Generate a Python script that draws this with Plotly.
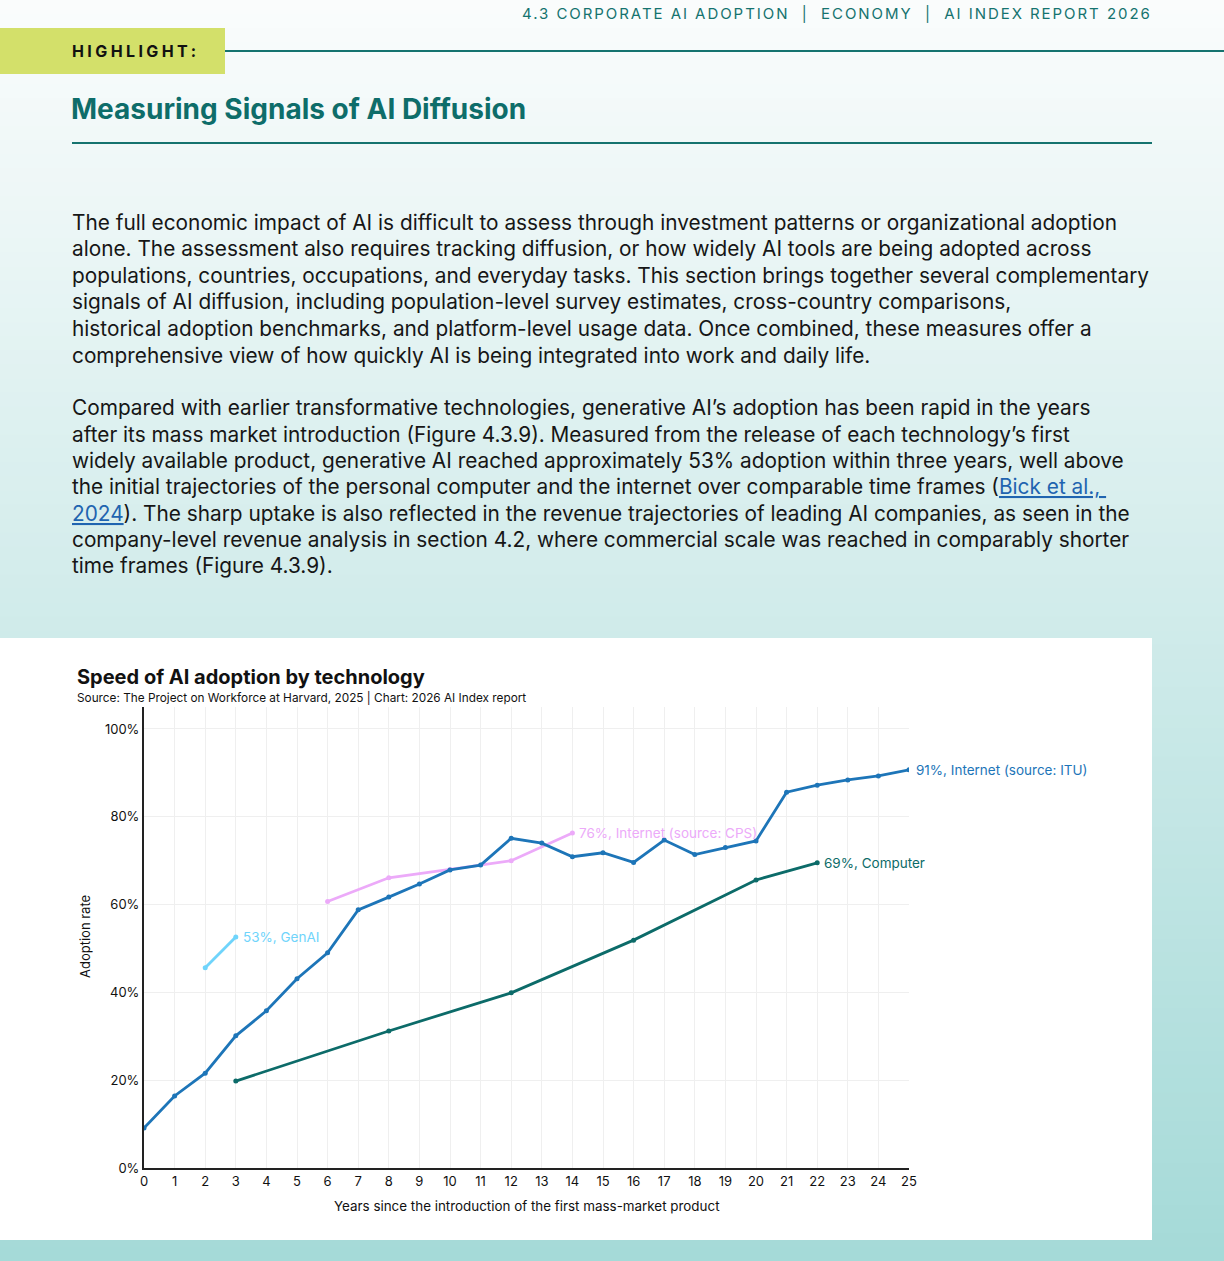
import plotly.graph_objects as go

# ---- data ----
years = list(range(0, 26))

itu_x = years
itu_y = [9.1, 16.4, 21.6, 30.1, 35.8, 43.1, 49.0, 58.8, 61.7, 64.7, 67.9, 69.0, 75.1,
         74.0, 70.9, 71.8, 69.6, 74.7, 71.4, 73.0, 74.5, 85.6, 87.2, 88.4, 89.3, 90.7]

cps_x = [6, 8, 10, 12, 14]
cps_y = [60.7, 66.1, 68.0, 70.0, 76.3]

genai_x = [2, 3]
genai_y = [45.6, 52.6]

pc_x = [3, 8, 12, 16, 20, 22]
pc_y = [19.8, 31.2, 39.9, 51.9, 65.6, 69.5]

y_ticks = [0, 20, 40, 60, 80, 100]
y_tick_text = ["0%", "20%", "40%", "60%", "80%", "100%"]

para1 = [
    "The full economic impact of AI is difficult to assess through investment patterns or organizational adoption",
    "alone. The assessment also requires tracking diffusion, or how widely AI tools are being adopted across",
    "populations, countries, occupations, and everyday tasks. This section brings together several complementary",
    "signals of AI diffusion, including population-level survey estimates, cross-country comparisons,",
    "historical adoption benchmarks, and platform-level usage data. Once combined, these measures offer a",
    "comprehensive view of how quickly AI is being integrated into work and daily life.",
]
LINK = "color:#1f64b0;text-decoration:underline"
para2 = [
    "Compared with earlier transformative technologies, generative AI’s adoption has been rapid in the years",
    "after its mass market introduction (Figure 4.3.9). Measured from the release of each technology’s first",
    "widely available product, generative AI reached approximately 53% adoption within three years, well above",
    "the initial trajectories of the personal computer and the internet over comparable time frames ("
    f"<span style='{LINK}'>Bick et al., </span>",
    f"<span style='{LINK}'>2024</span>). The sharp uptake is also reflected in the revenue trajectories of leading AI companies, as seen in the",
    "company-level revenue analysis in section 4.2, where commercial scale was reached in comparably shorter",
    "time frames (Figure 4.3.9).",
]

W, H = 1224, 1261
TEAL = "#15736f"
C_ITU = "#1d75b8"
C_CPS = "#ecaaf9"
C_GEN = "#6fd4fb"
C_PC = "#0c6b69"


def px(x):
    return x / W


def py(y):
    return 1 - y / H


fig = go.Figure()

fig.add_trace(go.Scatter(x=pc_x, y=pc_y, mode="lines+markers",
                         line=dict(color=C_PC, width=2.8), marker=dict(size=5, color=C_PC)))
fig.add_trace(go.Scatter(x=cps_x, y=cps_y, mode="lines+markers",
                         line=dict(color=C_CPS, width=2.8), marker=dict(size=5, color=C_CPS)))
fig.add_trace(go.Scatter(x=itu_x, y=itu_y, mode="lines+markers",
                         line=dict(color=C_ITU, width=2.8), marker=dict(size=5, color=C_ITU)))
fig.add_trace(go.Scatter(x=genai_x, y=genai_y, mode="lines+markers",
                         line=dict(color=C_GEN, width=2.8), marker=dict(size=5, color=C_GEN)))

# ---- background: vertical gradient made of thin strips ----
shapes = []
top, bot = (250, 252, 252), (165, 218, 216)
n = 90
for i in range(n):
    t = i / (n - 1)
    col = tuple(round(top[k] + (bot[k] - top[k]) * t) for k in range(3))
    y0 = H * i / n
    y1 = H * (i + 1) / n + 1
    shapes.append(dict(type="rect", xref="paper", yref="paper", layer="below",
                       x0=0, x1=1, y0=py(y1), y1=py(y0), line=dict(width=0),
                       fillcolor="rgb(%d,%d,%d)" % col))

# highlight box and rules
shapes += [
    dict(type="rect", xref="paper", yref="paper", layer="below", x0=0, x1=px(225),
         y0=py(74), y1=py(28), fillcolor="#d3e06a", line=dict(width=0)),
    dict(type="line", xref="paper", yref="paper", layer="below", x0=px(225), x1=1,
         y0=py(51), y1=py(51), line=dict(color=TEAL, width=2)),
    dict(type="line", xref="paper", yref="paper", layer="below", x0=px(72), x1=px(1152),
         y0=py(143), y1=py(143), line=dict(color=TEAL, width=2)),
    # white chart card
    dict(type="rect", xref="paper", yref="paper", layer="below", x0=0, x1=px(1152),
         y0=py(1240), y1=py(638), fillcolor="white", line=dict(width=0)),
]

ann = [
    dict(text="<span style='letter-spacing:1.95px'>4.3 CORPORATE AI ADOPTION  |  ECONOMY  |  AI INDEX REPORT 2026</span>",
         x=px(1154), y=py(14), xanchor="right", font=dict(size=15, color=TEAL, family="Inter")),
    dict(text="<span style='letter-spacing:3.4px'><b>HIGHLIGHT:</b></span>", x=px(70), y=py(51), xanchor="left",
         font=dict(size=16, color="#111111", family="Inter")),
    dict(text="<b>Measuring Signals of AI Diffusion</b>", x=px(69), y=py(109), xanchor="left",
         font=dict(size=28, color="#0e6d6a", family="Inter")),
    dict(text="<b>Speed of AI adoption by technology</b>", x=px(75), y=py(677), xanchor="left",
         font=dict(size=20, color="#111111", family="Inter")),
    dict(text="Source: The Project on Workforce at Harvard, 2025 | Chart: 2026 AI Index report",
         x=px(75), y=py(697), xanchor="left", font=dict(size=11.8, color="#111111", family="Inter")),
    dict(text="Adoption rate", x=px(75), y=py(937), textangle=-90,
         font=dict(size=13, color="#111111", family="Inter")),
    dict(text="Years since the introduction of the first mass-market product", x=px(527), y=py(1206),
         font=dict(size=13.4, color="#111111", family="Inter")),
]
for i, line in enumerate(para1):
    ann.append(dict(text=line, x=px(70), y=py(222 + i * 26.6), xanchor="left",
                    font=dict(size=20.8, color="#161616", family="Inter")))
for i, line in enumerate(para2):
    ann.append(dict(text=line, x=px(70), y=py(408 + i * 26.3), xanchor="left",
                    font=dict(size=20.8, color="#161616", family="Inter")))
for a in ann:
    a.update(xref="paper", yref="paper", showarrow=False, yanchor=a.get("yanchor", "middle"))

# end-of-line labels
ends = [
    (genai_x[-1], genai_y[-1], "53%, GenAI", C_GEN),
    (cps_x[-1], cps_y[-1], "76%, Internet (source: CPS)", C_CPS),
    (itu_x[-1], itu_y[-1], "91%, Internet (source: ITU)", C_ITU),
    (pc_x[-1], pc_y[-1], "69%, Computer", C_PC),
]
for x, y, t, c in ends:
    ann.append(dict(x=x, y=y, text=t, xref="x", yref="y", showarrow=False, xanchor="left",
                    xshift=5, font=dict(size=13.5, color=c, family="Inter")))

fig.update_layout(
    width=W, height=H, margin=dict(l=0, r=0, t=0, b=0),
    paper_bgcolor="white", plot_bgcolor="rgba(0,0,0,0)",
    showlegend=False, shapes=shapes, annotations=ann,
    font=dict(family="Inter", color="#111111"),
    xaxis=dict(domain=[px(144), px(909)], range=[0, 25], dtick=1, tick0=0,
               showgrid=True, gridcolor="#efefef", gridwidth=1, zeroline=False,
               showline=True, linecolor="#222222", linewidth=2,
               tickfont=dict(size=13, color="#111111"), ticks="", automargin=False),
    yaxis=dict(domain=[py(1168), py(707)], range=[0, 105], tickvals=y_ticks, ticktext=y_tick_text,
               showgrid=True, gridcolor="#efefef", gridwidth=1, zeroline=False,
               showline=True, linecolor="#222222", linewidth=2,
               tickfont=dict(size=13, color="#111111"), ticks="", automargin=False),
)

# the page is photographed edge to edge, so drop the default body margin
fig.write_html("out.html", config={"displayModeBar": False},
               post_script="document.body.style.margin='0';")
